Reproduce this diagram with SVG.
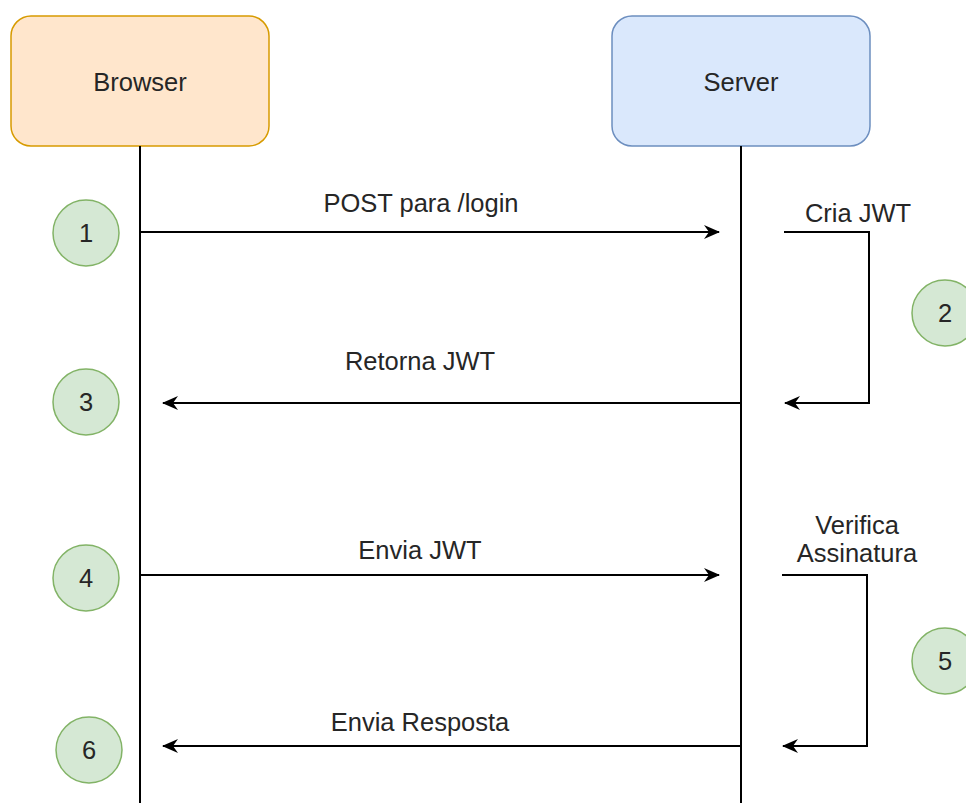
<svg xmlns="http://www.w3.org/2000/svg" width="966" height="803" viewBox="0 0 966 803">
<defs>
<style>
.actor-b{fill:#ffe6cc;stroke:#d79b00;stroke-width:1.5}
.actor-s{fill:#dae8fc;stroke:#6c8ebf;stroke-width:1.5}
.step{fill:#d5e8d4;stroke:#82b366;stroke-width:1.5}
.t{font-family:"Liberation Sans",Arial,sans-serif;font-size:25.5px;fill:#262626;text-anchor:middle}
.ln{fill:none;stroke:#000;stroke-width:2}
</style>
<marker id="ah" viewBox="0 0 16 14" refX="15" refY="7" markerWidth="16" markerHeight="14" markerUnits="userSpaceOnUse" orient="auto">
<path d="M0,0 L16,7 L0,14 L5,7 Z" fill="#000"/>
</marker>
</defs>
<rect width="966" height="803" fill="#fff"/>
<g id="browser"><rect class="actor-b" x="11" y="16" width="258" height="130" rx="20"/><text class="t" x="140" y="91">Browser</text></g>
<g id="server"><rect class="actor-s" x="612" y="16" width="258" height="130" rx="20"/><text class="t" x="741" y="91">Server</text></g>
<g id="connectors">
<line class="ln" x1="140" y1="146" x2="140" y2="803"/>
<line class="ln" x1="741" y1="146" x2="741" y2="803"/>
<line class="ln" x1="140" y1="232" x2="719" y2="232" marker-end="url(#ah)"/>
<polyline class="ln" points="784,232 869,232 869,403 785,403" marker-end="url(#ah)"/>
<line class="ln" x1="741" y1="403" x2="163" y2="403" marker-end="url(#ah)"/>
<line class="ln" x1="140" y1="575" x2="719" y2="575" marker-end="url(#ah)"/>
<polyline class="ln" points="782,575 867,575 867,746 783,746" marker-end="url(#ah)"/>
<line class="ln" x1="741" y1="746" x2="163" y2="746" marker-end="url(#ah)"/>
</g>
<g id="labels">
<text class="t" x="421" y="212">POST para /login</text>
<text class="t" x="858" y="222">Cria JWT</text>
<text class="t" x="420" y="370">Retorna JWT</text>
<text class="t" x="420" y="559">Envia JWT</text>
<text class="t" x="857" y="534">Verifica</text>
<text class="t" x="857" y="562">Assinatura</text>
<text class="t" x="420" y="731">Envia Resposta</text>
</g>
<g id="step1"><circle class="step" cx="86" cy="233" r="33"/><text class="t" x="86" y="242">1</text></g>
<g id="step2"><circle class="step" cx="945" cy="313" r="33"/><text class="t" x="945" y="322">2</text></g>
<g id="step3"><circle class="step" cx="86" cy="402" r="33"/><text class="t" x="86" y="411">3</text></g>
<g id="step4"><circle class="step" cx="86" cy="578" r="33"/><text class="t" x="86" y="587">4</text></g>
<g id="step5"><circle class="step" cx="945" cy="661" r="33"/><text class="t" x="945" y="670">5</text></g>
<g id="step6"><circle class="step" cx="89" cy="750" r="33"/><text class="t" x="89" y="759">6</text></g>
</svg>
